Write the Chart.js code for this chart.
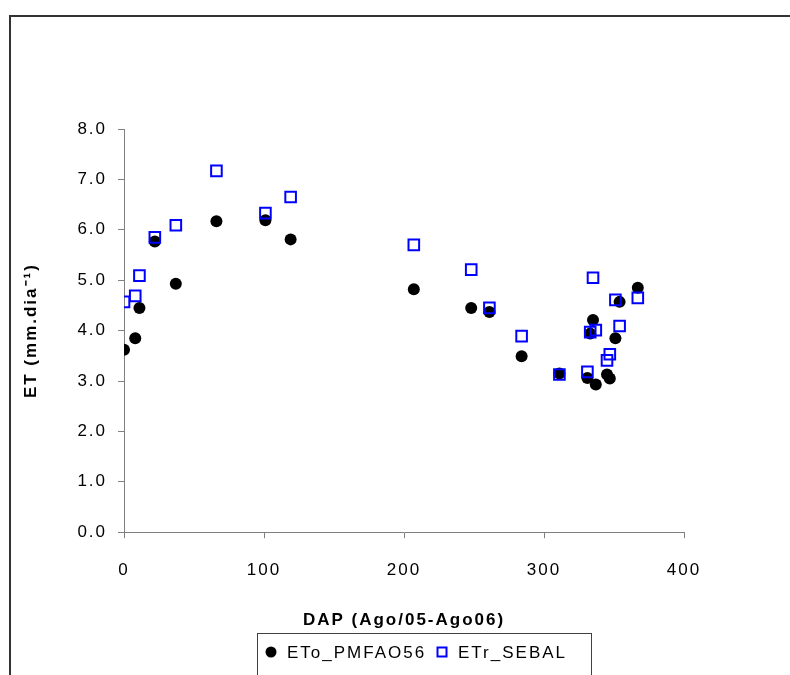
<!DOCTYPE html>
<html>
<head>
<meta charset="utf-8">
<title>ET scatter</title>
<script src="https://cdn.jsdelivr.net/npm/chart.js"></script>
<style>
  html, body { margin: 0; padding: 0; background: #fff; }
  #wrap { width: 790px; height: 675px; }
</style>
</head>
<body>
<div id="wrap"><canvas id="chart" width="790" height="675"></canvas></div>
<script>
// days after planting (shared by both series)
const dap = [0, 8, 11, 22, 37, 66, 101, 119, 207, 248, 261, 284, 311, 331, 333, 335, 337, 345, 347, 351, 354, 367];
const etoPM = [3.62, 3.85, 4.45, 5.77, 4.93, 6.17, 6.19, 5.81, 4.82, 4.45, 4.37, 3.49, 3.15, 3.06, 3.94, 4.21, 2.93, 3.13, 3.05, 3.85, 4.57, 4.85];
const etrSebal = [4.57, 4.69, 5.09, 5.85, 6.09, 7.17, 6.33, 6.65, 5.70, 5.21, 4.45, 3.89, 3.13, 3.18, 3.97, 5.05, 4.01, 3.41, 3.53, 4.61, 4.09, 4.65];
const seriesNames = ["ETo_PMFAO56", "ETr_SEBAL"];
const xTitle = "DAP (Ago/05-Ago06)";
const yTitle = "ET (mm.dia\u207B\u00B9)";

const font = "'Liberation Sans', Arial, sans-serif";
const spacing = "2px"; // excel export renders text a bit wide
Chart.defaults.font.family = font;
Chart.defaults.color = "#000";

const toPoints = ys => ys.map((y, i) => ({ x: dap[i], y }));

// outer frame + legend box drawn by hand, like the excel export
const extras = {
  id: "extras",
  beforeUpdate(chart) { chart.ctx.letterSpacing = spacing; },
  beforeLayout(chart) { chart.ctx.letterSpacing = spacing; },
  beforeDraw(chart) {
    const ctx = chart.ctx;
    ctx.letterSpacing = spacing;
    ctx.save();
    ctx.fillStyle = "#fff";
    ctx.fillRect(0, 0, chart.width, chart.height);
    ctx.strokeStyle = "#333";
    ctx.lineWidth = 2;
    ctx.beginPath();
    ctx.moveTo(10, chart.height + 2);
    ctx.lineTo(10, 16);
    ctx.lineTo(chart.width + 2, 16);
    ctx.stroke();
    ctx.restore();
  },
  afterDraw(chart) {
    const ctx = chart.ctx;
    const ds = chart.data.datasets;
    ctx.save();
    ctx.strokeStyle = "#404040";
    ctx.lineWidth = 1;
    ctx.strokeRect(257.5, 633.5, 334, 60);
    ctx.font = "17px " + font;
    ctx.textBaseline = "middle";
    const cy = 652;
    // ETo entry
    ctx.beginPath();
    ctx.arc(271, cy, 5.5, 0, Math.PI * 2);
    ctx.fillStyle = ds[1].pointBackgroundColor;
    ctx.fill();
    ctx.fillStyle = "#000";
    ctx.fillText(ds[1].label, 287, cy + 1);
    // ETr entry
    ctx.strokeStyle = ds[0].pointBorderColor;
    ctx.lineWidth = 2;
    ctx.strokeRect(437.5, cy - 4.5, 9, 9);
    ctx.fillText(ds[0].label, 458, cy + 1);
    ctx.restore();
  }
};

new Chart(document.getElementById("chart").getContext("2d"), {
  type: "scatter",
  data: {
    datasets: [
      {
        label: seriesNames[1],
        data: toPoints(etrSebal),
        pointStyle: "rect",
        pointRadius: 7.5,
        pointHoverRadius: 7.5,
        pointBorderWidth: 2,
        pointBorderColor: "#0000FF",
        pointBackgroundColor: "rgba(0,0,0,0)",
        order: 0
      },
      {
        label: seriesNames[0],
        data: toPoints(etoPM),
        pointStyle: "circle",
        pointRadius: 6,
        pointHoverRadius: 6,
        pointBorderWidth: 0,
        pointBackgroundColor: "#000",
        pointBorderColor: "#000",
        order: 1
      }
    ]
  },
  options: {
    responsive: false,
    animation: false,
    layout: { padding: { left: 10, right: 106, top: 129, bottom: 44 } },
    plugins: { legend: { display: false }, tooltip: { enabled: false } },
    scales: {
      x: {
        type: "linear",
        min: 0, max: 400,
        ticks: { stepSize: 100, padding: 22, font: { size: 17 } },
        grid: { drawOnChartArea: false, drawTicks: true, tickLength: 6, color: "#808080" },
        border: { color: "#808080", width: 1 },
        title: { display: true, text: xTitle, font: { size: 17, weight: "bold" }, padding: { top: 8, bottom: 0 } }
      },
      y: {
        min: 0, max: 8,
        ticks: { stepSize: 1, padding: 11, font: { size: 17 }, callback: v => v.toFixed(1) },
        grid: { drawOnChartArea: false, drawTicks: true, tickLength: 6, color: "#808080" },
        border: { color: "#808080", width: 1 },
        title: { display: true, text: yTitle, font: { size: 17, weight: "bold" }, padding: { top: 11, bottom: 25 } }
      }
    }
  },
  plugins: [extras]
});
</script>
</body>
</html>
